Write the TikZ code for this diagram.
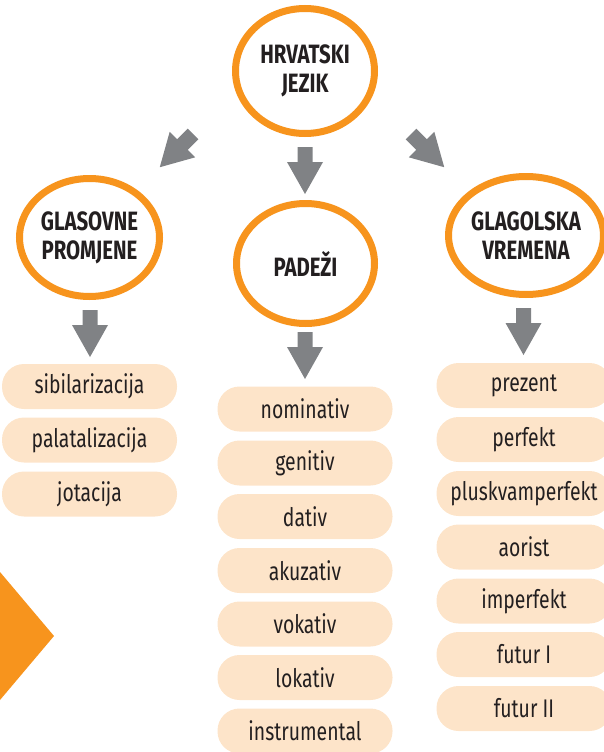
\documentclass[tikz,border=0pt]{standalone}
\usepackage{fontspec}
\setmainfont{Fira Sans}[FakeStretch=0.76]
\newfontfamily\headfont{Fira Sans}[FakeStretch=0.77]
\usetikzlibrary{shapes.geometric}
\definecolor{orng}{HTML}{F7941D}
\definecolor{peach}{HTML}{FDE4C9}
\definecolor{arrgray}{HTML}{808285}
\definecolor{txt}{HTML}{231F20}
\tikzset{
  topic/.style={ellipse, draw=orng, line width=7pt, fill=white, inner sep=0pt,
    align=center, text=txt, font=\headfont\bfseries\fontsize{26.5}{29}\selectfont},
  pill/.style={rectangle, rounded corners=22pt, fill=peach, minimum width=175pt,
    minimum height=45pt, inner sep=0pt, text=txt, font=\fontsize{25.5}{28}\selectfont},
  blockarrow/.pic={\fill[arrgray] (-7.5,0) -- (7.5,0) -- (7.5,15) -- (18,15)
    -- (0,47) -- (-18,15) -- (-7.5,15) -- cycle;}
}
\begin{document}
\begin{tikzpicture}[x=1pt,y=-1pt]
\useasboundingbox (0,0) rectangle (603,752);
% decorative triangle
\fill[orng] (0,572) -- (54,636) -- (0,700) -- cycle;
% topics
\node[topic, minimum width=139pt, minimum height=125pt] (hj) at (305,71) {HRVATSKI\\JEZIK};
\node[topic, minimum width=140pt, minimum height=118pt] (gp) at (89.5,237.5) {GLASOVNE\\PROMJENE};
\node[topic, minimum width=138pt, minimum height=120pt] (pd) at (305.5,263.5) {PADEŽI};
\node[topic, minimum width=141pt, minimum height=118pt] (gv) at (526,235.5) {GLAGOLSKA\\VREMENA};
% arrows
\pic at (305,147) {blockarrow};
\pic[rotate=-45] at (193,134) {blockarrow};
\pic[rotate=45] at (411,134) {blockarrow};
\pic at (90,310) {blockarrow};
\pic at (305,332) {blockarrow};
\pic at (523.5,308) {blockarrow};
% left column
\node[pill] (g1) at (89.5,386.5) {sibilarizacija};
\node[pill] (g2) at (89.5,440) {palatalizacija};
\node[pill] (g3) at (89.5,494) {jotacija};
% middle column
\node[pill] (p1) at (305,409) {nominativ};
\node[pill] (p2) at (305,463) {genitiv};
\node[pill] (p3) at (305,516.5) {dativ};
\node[pill] (p4) at (305,570.5) {akuzativ};
\node[pill] (p5) at (305,624) {vokativ};
\node[pill] (p6) at (305,677.5) {lokativ};
\node[pill] (p7) at (305,731) {instrumental};
% right column
\node[pill] (v1) at (524,385.5) {prezent};
\node[pill] (v2) at (524,439.5) {perfekt};
\node[pill] (v3) at (524,493.5) {pluskvamperfekt};
\node[pill] (v4) at (524,547) {aorist};
\node[pill] (v5) at (524,601) {imperfekt};
\node[pill] (v6) at (524,654.5) {futur I};
\node[pill] (v7) at (524,708.5) {futur II};
\end{tikzpicture}
\end{document}
